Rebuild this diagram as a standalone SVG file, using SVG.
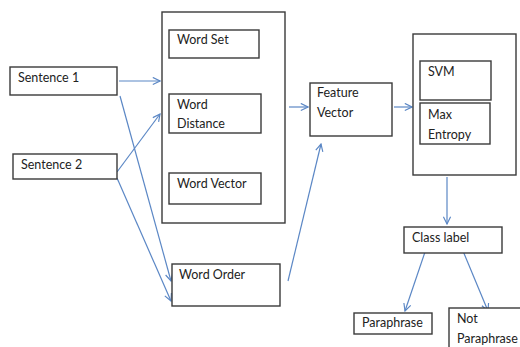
<svg xmlns="http://www.w3.org/2000/svg" width="520" height="347" viewBox="0 0 520 347">
<defs>
<style>
.box{fill:#fff;stroke:#3a3a3a;stroke-width:1.4}
.t{font-family:Lato,"Liberation Sans",sans-serif;font-size:12.5px;fill:#222}
.c{fill:none;stroke:#5b87c5;stroke-width:1.2}
</style>
<marker id="ah" viewBox="0 0 10 10" refX="9" refY="5" markerWidth="9" markerHeight="9" orient="auto" markerUnits="userSpaceOnUse">
<polyline points="1,1 9,5 1,9" fill="none" stroke="#5b87c5" stroke-width="1.3"/>
</marker>
</defs>
<rect width="520" height="347" fill="#fff"/>
<g id="connectors">
<line class="c" x1="119" y1="81" x2="160" y2="81" marker-end="url(#ah)"/>
<line class="c" x1="120" y1="96" x2="171" y2="281" marker-end="url(#ah)"/>
<line class="c" x1="117" y1="172" x2="160" y2="114" marker-end="url(#ah)"/>
<line class="c" x1="117" y1="178" x2="171" y2="301" marker-end="url(#ah)"/>
<line class="c" x1="289" y1="107" x2="308" y2="107" marker-end="url(#ah)"/>
<line class="c" x1="288" y1="281" x2="321" y2="144" marker-end="url(#ah)"/>
<line class="c" x1="394" y1="107" x2="412" y2="107" marker-end="url(#ah)"/>
<line class="c" x1="447" y1="177" x2="447" y2="224" marker-end="url(#ah)"/>
<line class="c" x1="425" y1="252" x2="405" y2="311" marker-end="url(#ah)"/>
<line class="c" x1="463" y1="251" x2="488" y2="311" marker-end="url(#ah)"/>
</g>
<g id="sentence1"><rect class="box" x="10" y="67" width="107" height="28"/><text class="t" x="18" y="82">Sentence 1</text></g>
<g id="sentence2"><rect class="box" x="13" y="154" width="104" height="25"/><text class="t" x="21" y="169">Sentence 2</text></g>
<g id="features"><rect class="box" x="162" y="12" width="123" height="211"/></g>
<g id="wordset"><rect class="box" x="169" y="30" width="90" height="28"/><text class="t" x="177" y="44">Word Set</text></g>
<g id="worddistance"><rect class="box" x="169" y="94" width="92" height="39"/><text class="t" x="177" y="109">Word</text><text class="t" x="177" y="128">Distance</text></g>
<g id="wordvector"><rect class="box" x="169" y="173" width="92" height="31"/><text class="t" x="177" y="188">Word Vector</text></g>
<g id="wordorder"><rect class="box" x="172" y="264" width="108" height="42"/><text class="t" x="179" y="279">Word Order</text></g>
<g id="featurevector"><rect class="box" x="310" y="83" width="82" height="53"/><text class="t" x="317" y="97">Feature</text><text class="t" x="317" y="117">Vector</text></g>
<g id="classifiers"><rect class="box" x="413" y="34" width="103" height="141"/></g>
<g id="svm"><rect class="box" x="420" y="61" width="71" height="39"/><text class="t" x="428" y="76">SVM</text></g>
<g id="maxentropy"><rect class="box" x="420" y="103" width="70" height="41"/><text class="t" x="428" y="119">Max</text><text class="t" x="428" y="139">Entropy</text></g>
<g id="classlabel"><rect class="box" x="404" y="227" width="98" height="26"/><text class="t" x="412" y="242">Class label</text></g>
<g id="paraphrase"><rect class="box" x="354" y="313" width="78" height="21"/><text class="t" x="362" y="327">Paraphrase</text></g>
<g id="notparaphrase"><rect class="box" x="449" y="308" width="80" height="50"/><text class="t" x="457" y="323">Not</text><text class="t" x="457" y="343">Paraphrase</text></g>
</svg>
